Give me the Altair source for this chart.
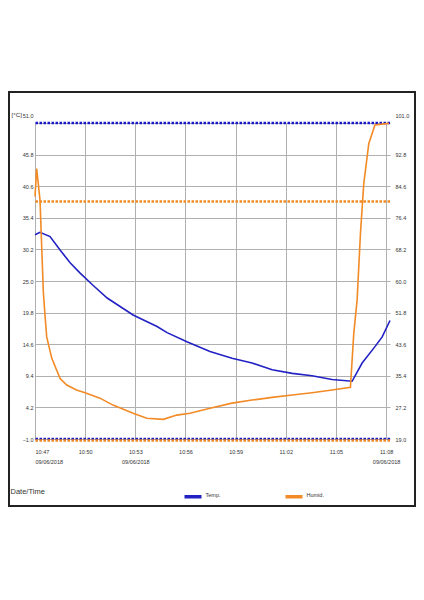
import altair as alt
import pandas as pd

DAY = "2018-06-09T"

# Temperature readings (left axis, °C)
temp_times = ["10:47:00", "10:47:18", "10:47:54", "10:48:30", "10:49:06", "10:49:42",
              "10:50:28", "10:51:19", "10:52:52", "10:54:18", "10:54:54", "10:56:05",
              "10:57:28", "10:58:47", "10:59:59", "11:01:11", "11:02:23", "11:03:34",
              "11:04:46", "11:05:58", "11:06:34", "11:07:20", "11:07:46", "11:08:14"]
temp_values = [32.6, 33.0, 32.3, 30.1, 28.0, 26.3,
               24.3, 22.2, 19.4, 17.5, 16.5, 15.0,
               13.4, 12.3, 11.5, 10.4, 9.8, 9.4,
               8.8, 8.5, 11.5, 14.2, 15.8, 18.5]

# Humidity readings (right axis)
hum_times = ["10:47:00", "10:47:06", "10:47:18", "10:47:30", "10:47:36", "10:47:42",
             "10:48:00", "10:48:30", "10:48:54", "10:49:29", "10:50:05", "10:50:53",
             "10:51:40", "10:52:52", "10:53:41", "10:54:40", "10:55:29", "10:56:16",
             "10:57:28", "10:58:47", "10:59:59", "11:01:11", "11:02:23", "11:03:34",
             "11:04:46", "11:05:52", "11:06:04", "11:06:16", "11:06:28", "11:06:40",
             "11:06:58", "11:07:20", "11:08:10"]
hum_values = [81.9, 89.2, 81.0, 57.0, 51.0, 45.5,
              40.0, 34.7, 33.0, 31.7, 30.9, 29.6,
              27.8, 25.7, 24.4, 24.1, 25.2, 25.7,
              27.0, 28.3, 29.1, 29.8, 30.4, 31.0,
              31.7, 32.4, 46.4, 55.1, 72.4, 85.4,
              95.7, 100.5, 100.9]

series_names = ["Temp.", "Humid."]
series_colors = ["#2222c4", "#f28a26"]

temp_alarms = [51.0, -1.0]
hum_alarms = [80.6, 18.6]

temp_ticks = [51.0, 45.8, 40.6, 35.4, 30.2, 25.0, 19.8, 14.6, 9.4, 4.2, -1.0]
hum_ticks = [101.0, 92.8, 84.6, 76.4, 68.2, 60.0, 51.8, 43.6, 35.4, 27.2, 19.0]
tick_times = [(10, 47), (10, 50), (10, 53), (10, 56), (10, 59), (11, 2), (11, 5), (11, 8)]
dated_ticks = [(10, 47), (10, 53), (11, 8)]

FONT = "Liberation Sans"
BLUE_DOT = "#1a1ac8"
ORANGE_DOT = "#f08a24"
GRID = "#b0b0b0"
TEXT = "#333333"

temp_df = pd.DataFrame({"time": [DAY + t for t in temp_times], "temp": temp_values,
                        "series": series_names[0]})
hum_df = pd.DataFrame({"time": [DAY + t for t in hum_times], "humid": hum_values,
                       "series": series_names[1]})


def dt(h, m, s=0):
    return alt.DateTime(year=2018, month=6, date=9, hours=h, minutes=m, seconds=s)


cond = " || ".join(f"(hours(datum.value) == {h} && minutes(datum.value) == {m})"
                   for h, m in dated_ticks)
label_expr = (f"({cond}) ? [timeFormat(datum.value, '%H:%M'), timeFormat(datum.value, '%d/%m/%Y')]"
              f" : timeFormat(datum.value, '%H:%M')")

x_axis = alt.Axis(values=[dt(h, m) for h, m in tick_times], labelExpr=label_expr,
                  title="Date/Time", titleX=-25, titleY=48, titleAlign="left",
                  titleBaseline="top", titleFontSize=7.5, titleFontWeight="normal",
                  titleColor=TEXT, labelColor=TEXT,
                  labelFontSize=5.5, labelPadding=10, labelLineHeight=10.5,
                  ticks=False, tickSize=0, domain=False, grid=True, gridColor=GRID,
                  gridWidth=1, gridOpacity=1)
x_enc = alt.X("time:T", scale=alt.Scale(domain=[dt(10, 47), dt(11, 8, 14)]), axis=x_axis)

y_temp_scale = alt.Scale(domain=[-1, 51], nice=False, zero=False)
y_temp_axis = alt.Axis(values=temp_ticks, format=".1f", title="[°C]", titleAngle=0,
                       titleX=-24, titleY=-12, titleAlign="left", titleBaseline="top",
                       titleFontSize=6.2, titleFontWeight="normal",
                       titleColor=TEXT, labelColor=TEXT,
                       labelFontSize=5.5, labelPadding=2, ticks=False, tickSize=0,
                       domain=False, grid=True, gridColor=GRID, gridWidth=1, gridOpacity=1,
                       labelOffset={"condition": {"test": "datum.value == 51", "value": -8},
                                    "value": 0})

y_hum_scale = alt.Scale(domain=[19, 101], nice=False, zero=False)
y_hum_axis = alt.Axis(values=hum_ticks, format=".1f", title=None, orient="right",
                      labelColor=TEXT,
                      labelFontSize=5.5, labelPadding=5, ticks=False, tickSize=0,
                      domain=False, grid=False,
                      labelOffset={"condition": {"test": "datum.value == 101", "value": -8},
                                   "value": 0})

color_enc = alt.Color("series:N", scale=alt.Scale(domain=series_names, range=series_colors),
                      legend=alt.Legend(title=None, orient="none", legendX=147.5, legendY=363,
                                        direction="horizontal", symbolType="stroke",
                                        symbolSize=289, symbolStrokeWidth=3.5,
                                        labelFontSize=5.5, labelBaseline="alphabetic",
                                        labelColor=TEXT,
                                        labelOffset=2, columnPadding=58, padding=0))

frame = alt.Chart(pd.DataFrame({"k": [0]})).mark_rect(
    fillOpacity=0, stroke="#222222", strokeWidth=2
).encode(x=alt.value(-26), x2=alt.value(380), y=alt.value(-31), y2=alt.value(383))

temp_layer = alt.layer(
    alt.Chart(pd.DataFrame({"alarm": temp_alarms})).mark_rule(
        color=BLUE_DOT, strokeWidth=2.5, strokeDash=[2.5, 1.5]
    ).encode(y=alt.Y("alarm:Q", scale=y_temp_scale, axis=y_temp_axis)),
    alt.Chart(temp_df).mark_line(strokeWidth=1.6).encode(
        x=x_enc, y=alt.Y("temp:Q", scale=y_temp_scale, axis=y_temp_axis), color=color_enc),
)

hum_layer = alt.layer(
    alt.Chart(pd.DataFrame({"alarm_h": hum_alarms})).mark_rule(
        color=ORANGE_DOT, strokeWidth=2.5, strokeDash=[2.5, 1.5]
    ).encode(y=alt.Y("alarm_h:Q", scale=y_hum_scale, axis=y_hum_axis)),
    alt.Chart(hum_df).mark_line(strokeWidth=1.6).encode(
        x=x_enc, y=alt.Y("humid:Q", scale=y_hum_scale, axis=y_hum_axis), color=color_enc),
)

chart = alt.layer(frame, temp_layer, hum_layer).resolve_scale(y="independent").properties(
    width=355, height=316,
    padding={"left": 27, "top": 115, "right": 26, "bottom": 80},
    autosize=alt.AutoSizeParams(type="none"),
    background="white",
).configure_axis(
    labelFont=FONT, titleFont=FONT
).configure_legend(
    labelFont=FONT
).configure_view(stroke="transparent")

chart.save("out.html", embed_options={"renderer": "svg", "actions": False})
